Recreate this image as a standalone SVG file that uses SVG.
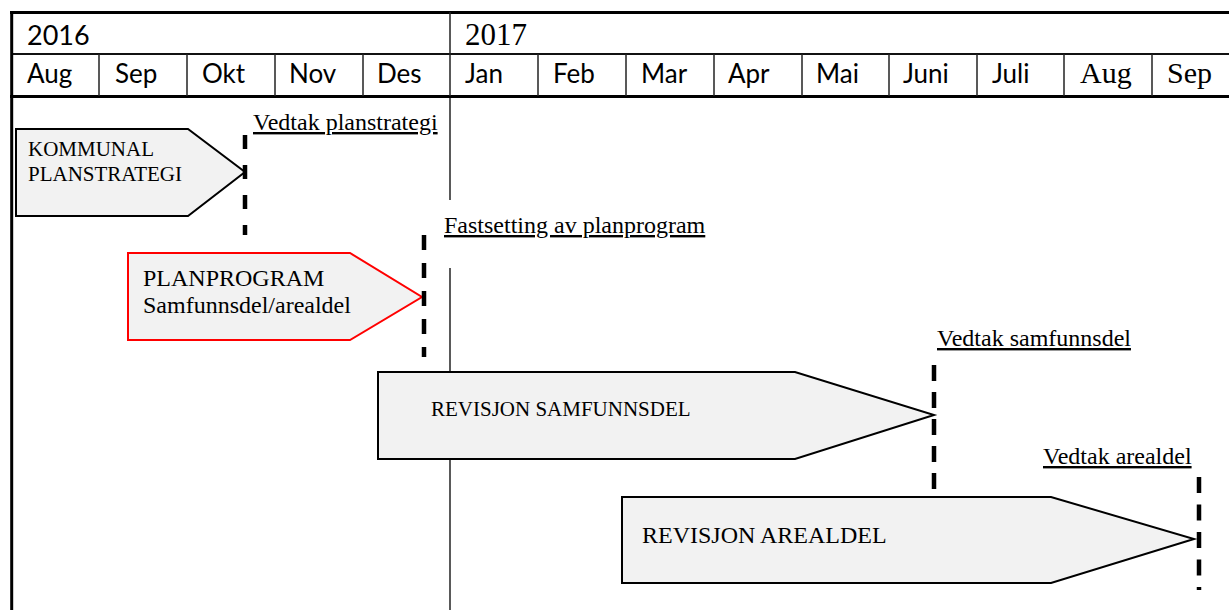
<svg xmlns="http://www.w3.org/2000/svg" width="1229" height="610" viewBox="0 0 1229 610">
  <style>
    .rule-thick { stroke: #000; stroke-width: 3; fill: none; }
    .rule-mid { stroke: #111; stroke-width: 2; fill: none; }
    .rule-thin { stroke: #222; stroke-width: 1.5; fill: none; }
    .sans { font-family: Lato, "Liberation Sans", sans-serif; fill: #000; }
    .serif { font-family: "Liberation Serif", "Times New Roman", serif; fill: #000; }
    .month { font-size: 26px; }
    .phase { fill: #f2f2f2; stroke: #000; stroke-width: 2; stroke-linejoin: miter; }
    .phase.red { stroke: #ff0000; }
    .milestone { stroke: #000; stroke-width: 4.5; fill: none; }
    .label { font-size: 24px; text-decoration: underline; }
  </style>

  <rect width="1229" height="610" fill="#ffffff"/>

  <!-- Header: years and months -->
  <g id="timeline-header">
    <line class="rule-thick" x1="10" y1="12.5" x2="1229" y2="12.5"/>
    <line class="rule-mid" x1="12" y1="54" x2="1229" y2="54"/>
    <line class="rule-thick" x1="10" y1="96.5" x2="1229" y2="96.5"/>
    <line class="rule-thick" x1="11.7" y1="11" x2="11.7" y2="610"/>
    <line class="rule-thin" x1="450" y1="12" x2="450" y2="96"/>
    <g class="rule-thin">
      <line x1="99" y1="54" x2="99" y2="96"/>
      <line x1="187" y1="54" x2="187" y2="96"/>
      <line x1="275" y1="54" x2="275" y2="96"/>
      <line x1="363" y1="54" x2="363" y2="96"/>
      <line x1="538" y1="54" x2="538" y2="96"/>
      <line x1="626" y1="54" x2="626" y2="96"/>
      <line x1="714" y1="54" x2="714" y2="96"/>
      <line x1="802" y1="54" x2="802" y2="96"/>
      <line x1="889" y1="54" x2="889" y2="96"/>
      <line x1="977" y1="54" x2="977" y2="96"/>
      <line x1="1064" y1="54" x2="1064" y2="96"/>
      <line x1="1152" y1="54" x2="1152" y2="96"/>
    </g>
    <text class="sans" x="27" y="45" font-size="27">2016</text>
    <text class="serif" x="465" y="45" font-size="31">2017</text>
    <g class="sans month">
      <text x="27" y="83">Aug</text>
      <text x="115" y="83">Sep</text>
      <text x="202" y="83">Okt</text>
      <text x="289" y="83">Nov</text>
      <text x="377" y="83">Des</text>
      <text x="465" y="83">Jan</text>
      <text x="553" y="83">Feb</text>
      <text x="641" y="83">Mar</text>
      <text x="728" y="83">Apr</text>
      <text x="816" y="83">Mai</text>
      <text x="903" y="83">Juni</text>
      <text x="992" y="83">Juli</text>
    </g>
    <text class="serif" x="1080" y="83" font-size="30">Aug</text>
    <text class="serif" x="1167" y="83" font-size="30">Sep</text>
  </g>

  <!-- Year boundary running down the chart -->
  <g id="year-divider" stroke="#000" stroke-width="1.3">
    <line x1="450" y1="96" x2="450" y2="200"/>
    <line x1="450" y1="268" x2="450" y2="610"/>
  </g>

  <!-- Phases -->
  <g id="phase-kommunal-planstrategi">
    <polygon class="phase" points="16,129 188,129 245,172 188,216 16,216"/>
    <text class="serif" x="28" y="155.5" font-size="21">KOMMUNAL</text>
    <text class="serif" x="28" y="181" font-size="21">PLANSTRATEGI</text>
  </g>

  <g id="phase-planprogram">
    <polygon class="phase red" points="128,253 350,253 422,297 350,340 128,340"/>
    <text class="serif" x="143" y="286" font-size="24">PLANPROGRAM</text>
    <text class="serif" x="143" y="313" font-size="24">Samfunnsdel/arealdel</text>
  </g>

  <g id="phase-revisjon-samfunnsdel">
    <polygon class="phase" points="378,372 795,372 934,415 795,459 378,459"/>
    <text class="serif" x="431" y="416" font-size="21">REVISJON SAMFUNNSDEL</text>
  </g>

  <g id="phase-revisjon-arealdel">
    <polygon class="phase" points="622,497 1051,497 1194,539 1051,583 622,583"/>
    <text class="serif" x="642" y="543" font-size="24">REVISJON AREALDEL</text>
  </g>

  <!-- Decision milestones -->
  <g id="connectors">
    <g id="milestone-vedtak-planstrategi">
      <line class="milestone" x1="245" y1="135" x2="245" y2="235" stroke-dasharray="14 16"/>
      <text class="serif label" x="253" y="130">Vedtak planstrategi</text>
    </g>
    <g id="milestone-fastsetting-planprogram">
      <line class="milestone" x1="424" y1="235" x2="424" y2="357" stroke-dasharray="15 13"/>
      <text class="serif label" x="444" y="233">Fastsetting av planprogram</text>
    </g>
    <g id="milestone-vedtak-samfunnsdel">
      <line class="milestone" x1="934" y1="365" x2="934" y2="491" stroke-dasharray="16 11"/>
      <text class="serif label" x="937" y="346">Vedtak samfunnsdel</text>
    </g>
    <g id="milestone-vedtak-arealdel">
      <line class="milestone" x1="1199" y1="477" x2="1199" y2="590" stroke-dasharray="16 11.5"/>
      <text class="serif label" x="1043" y="464">Vedtak arealdel</text>
    </g>
  </g>
</svg>
